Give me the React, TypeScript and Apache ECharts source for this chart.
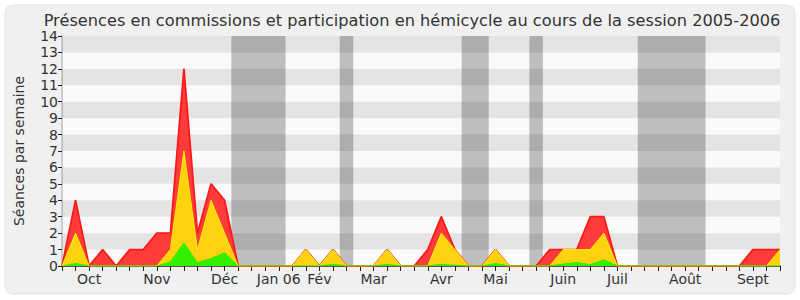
import React, { useEffect, useRef } from "react";
import * as echarts from "echarts";

const TITLE = "Présences en commissions et participation en hémicycle au cours de la session 2005-2006";
const Y_NAME = "Séances par semaine";

// weekly values (week index 0..53)
const totalSeances = [0, 4, 0, 1, 0, 1, 1, 2, 2, 12, 2, 5, 4, 0, 0, 0, 0, 0, 1, 0, 1, 0, 0, 0, 1, 0, 0, 1, 3, 1, 0, 0, 1, 0, 0, 0, 1, 1, 1, 3, 3, 0, 0, 0, 0, 0, 0, 0, 0, 0, 0, 1, 1, 1];
const hemicycle = [0, 2, 0, 0, 0, 0, 0, 0, 1, 7, 1, 4, 2, 0, 0, 0, 0, 0, 1, 0, 1, 0, 0, 0, 1, 0, 0, 0, 2, 1, 0, 0, 1, 0, 0, 0, 0, 1, 1, 1, 2, 0, 0, 0, 0, 0, 0, 0, 0, 0, 0, 0, 0, 1];
const interventions = [0, 0.15, 0, 0, 0, 0, 0, 0, 0.25, 1.4, 0.2, 0.45, 0.8, 0, 0, 0, 0, 0, 0, 0, 0.1, 0, 0, 0, 0.1, 0, 0, 0, 0.1, 0.05, 0, 0, 0.15, 0, 0, 0, 0, 0.12, 0.22, 0.08, 0.38, 0, 0, 0, 0, 0, 0, 0, 0, 0, 0, 0, 0, 0];

const monthWeeks = [2, 7, 12, 16, 19, 23, 28, 32, 37, 41, 46, 51];
const monthLabels = ["Oct", "Nov", "Déc", "Jan 06", "Fév", "Mar", "Avr", "Mai", "Juin", "Juil", "Août", "Sept"];

// parliamentary breaks (week positions)
const breakStart = [12.5, 20.5, 29.5, 34.5, 42.5];
const breakEnd = [16.5, 21.5, 31.5, 35.5, 47.5];

const yTicks = [0, 1, 2, 3, 4, 5, 6, 7, 8, 9, 10, 11, 12, 13, 14];

const FONT = "DejaVu Sans";

export default function App() {
  const ref = useRef<HTMLDivElement>(null);
  useEffect(() => {
    if (!ref.current) return;
    const chart = echarts.init(ref.current, undefined, { renderer: "svg" });
    const lastWeek = totalSeances.length - 1;
    const toPairs = (arr: number[]) => arr.map((v, i) => [i, v]);

    const areas: any[] = [];
    breakStart.forEach((s, k) => {
      areas.push([{ xAxis: s, itemStyle: { color: "#bebebe" } }, { xAxis: breakEnd[k] }]);
    });
    for (let k = 1; k < 14; k += 2) {
      areas.push([{ yAxis: yTicks[k], itemStyle: { color: "rgba(0,0,0,0.085)" } }, { yAxis: yTicks[k + 1] }]);
    }

    const labelMap: Record<number, string> = {};
    monthWeeks.forEach((w, k) => (labelMap[w] = monthLabels[k]));

    chart.setOption({
      animation: false,
      backgroundColor: "#ffffff",
      graphic: [
        {
          type: "rect",
          z: -10,
          shape: { x: 5, y: 5, width: 790, height: 289, r: 8 },
          style: { fill: "#f0f0f0", stroke: "#e4e4e4", lineWidth: 1 },
        },
        {
          type: "text",
          z: 10,
          x: 412,
          y: 20,
          style: {
            text: TITLE,
            fill: "#333333",
            font: `16.2px "${FONT}"`,
            textAlign: "center",
            textVerticalAlign: "middle",
          },
        },
      ],
      grid: {
        left: 62,
        right: 20,
        top: 36,
        bottom: 34,
        show: true,
        backgroundColor: "#fafafa",
        borderWidth: 0,
      },
      xAxis: [
        {
          type: "value",
          min: 0,
          max: lastWeek,
          interval: 1,
          position: "bottom",
          axisLine: { show: true, onZero: false, lineStyle: { color: "#3a1a14", width: 1.5 } },
          axisTick: { show: true, length: 5, lineStyle: { color: "#222" } },
          splitLine: { show: false },
          axisLabel: {
            color: "#333",
            fontFamily: FONT,
            fontSize: 14,
            margin: 6,
            showMinLabel: true,
            showMaxLabel: true,
            formatter: (v: number) => labelMap[v] || "",
          },
        },
        {
          type: "value",
          min: 0,
          max: lastWeek,
          interval: 1,
          position: "top",
          axisLine: { show: false },
          axisTick: { show: true, inside: true, length: 1, lineStyle: { color: "#222" } },
          splitLine: { show: false },
          axisLabel: { show: false },
        },
      ],
      yAxis: [
        {
          type: "value",
          min: 0,
          max: 14,
          interval: 1,
          name: Y_NAME,
          nameLocation: "middle",
          nameGap: 36,
          nameTextStyle: { color: "#333", fontFamily: FONT, fontSize: 14 },
          axisLine: { show: true, lineStyle: { color: "#222" } },
          axisTick: { show: true, length: 4, lineStyle: { color: "#222" } },
          splitLine: { show: false },
          axisLabel: { color: "#333", fontFamily: FONT, fontSize: 14, margin: 4 },
        },
        {
          type: "value",
          min: 0,
          max: 14,
          interval: 1,
          position: "right",
          axisLine: { show: true, lineStyle: { color: "#cccccc", width: 2 } },
          axisTick: { show: false },
          splitLine: { show: false },
          axisLabel: { show: false },
        },
      ],
      series: [
        {
          name: "Total",
          type: "line",
          z: 10,
          data: toPairs(totalSeances),
          showSymbol: false,
          lineStyle: { color: "#ff1a1a", width: 1.8 },
          areaStyle: { color: "#ff3c3c", opacity: 1 },
          markArea: { silent: true, z: 1, data: areas },
        },
        {
          name: "Hémicycle",
          type: "line",
          z: 11,
          data: toPairs(hemicycle),
          showSymbol: false,
          lineStyle: { color: "#ffee00", width: 1 },
          areaStyle: { color: "#ffd20f", opacity: 1 },
        },
        {
          name: "Interventions",
          type: "line",
          z: 12,
          data: toPairs(interventions),
          showSymbol: false,
          lineStyle: { color: "#33e600", width: 1 },
          areaStyle: { color: "#33f000", opacity: 1 },
        },
      ],
    });
    return () => chart.dispose();
  }, []);
  return (
    <div
      ref={ref}
      style={{ position: "absolute", left: 0, top: 0, width: 800, height: 300 }}
    />
  );
}
